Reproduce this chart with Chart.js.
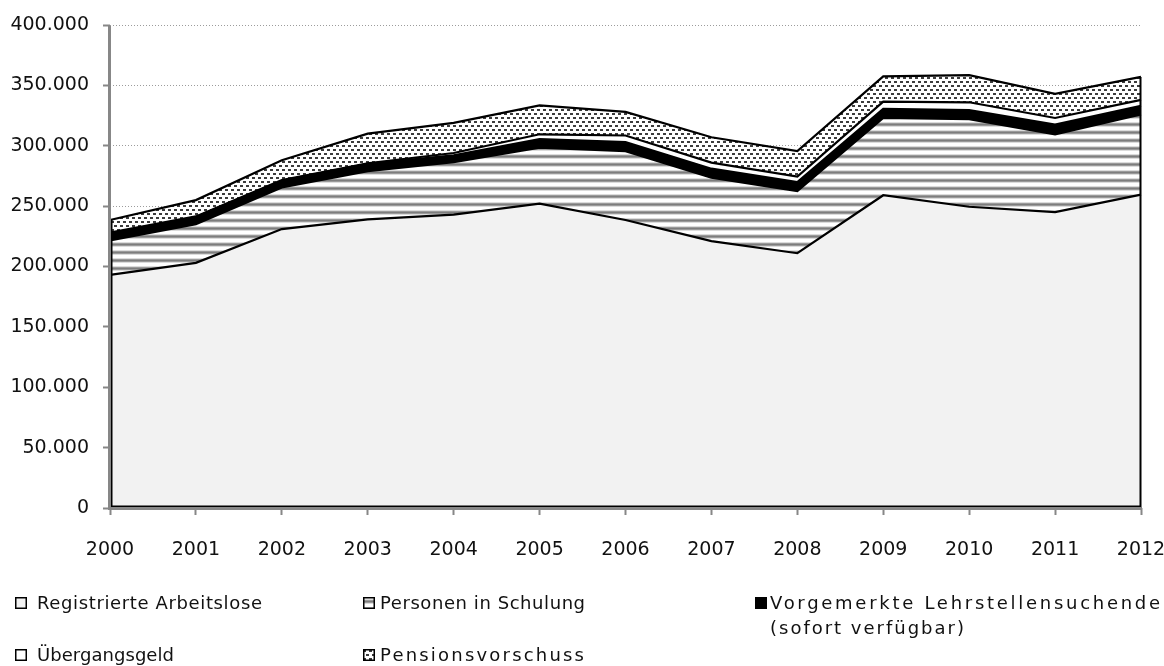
<!DOCTYPE html>
<html>
<head>
<meta charset="utf-8">
<script src="https://cdn.jsdelivr.net/npm/chart.js@4.4.1/dist/chart.umd.min.js"></script>
<style>
html,body{margin:0;padding:0;background:#fff;}
#wrap{position:relative;width:1164px;height:666px;overflow:hidden;}
#c{position:absolute;left:0;top:0;}
.lg{position:absolute;font-family:"DejaVu Sans",sans-serif;font-size:18px;color:#111;line-height:25px;white-space:nowrap;}
.mk{position:absolute;width:12px;height:12px;}
</style>
</head>
<body>
<div id="wrap">
<canvas id="c" width="1164" height="666"></canvas>
<div id="legend"></div>
</div>
<script>
// ---- data ----
const years = ['2000','2001','2002','2003','2004','2005','2006','2007','2008','2009','2010','2011','2012'];
const registrierteArbeitslose = [193000, 203000, 231000, 239000, 243000, 252000, 238500, 221000, 211000, 259000, 249500, 245000, 259500];
const personenInSchulung      = [28500, 32000, 34500, 40000, 43500, 46500, 57000, 52500, 51500, 64000, 72500, 64500, 66500];
const lehrstellensuchende     = [6000, 6000, 5500, 6000, 5500, 7000, 7500, 7500, 7500, 7500, 7500, 8000, 7000];
const uebergangsgeld          = [500, 500, 500, 500, 2000, 4000, 5500, 5000, 4500, 6000, 6500, 5500, 5000];
const pensionsvorschuss       = [10500, 13500, 16500, 24500, 25000, 24000, 19500, 21000, 21000, 21000, 22500, 20000, 19000];
const seriesNames = ['Registrierte Arbeitslose', 'Personen in Schulung', 'Vorgemerkte Lehrstellensuchende (sofort verfügbar)', 'Übergangsgeld', 'Pensionsvorschuss'];
const yTickStep = 50000, yMax = 400000;

// ---- patterns ----
function makeStripes() {
  const p = document.createElement('canvas'); p.width = 8; p.height = 8;
  const g = p.getContext('2d');
  const rows = ['#ffffff','#ffffff','#dcdcdc','#9a9a9a','#7d7d7d','#9a9a9a','#dcdcdc','#ffffff'];
  rows.forEach((c,i)=>{ g.fillStyle=c; g.fillRect(0,i,8,1); });
  return p;
}
function makeDots() {
  const p = document.createElement('canvas'); p.width = 6; p.height = 8;
  const g = p.getContext('2d');
  g.fillStyle = '#ffffff'; g.fillRect(0,0,6,8);
  g.fillStyle = '#3c3c3c';
  g.fillRect(0,1,3,2); g.fillRect(3,5,3,2);
  return p;
}
const mainCtx = document.getElementById('c').getContext('2d');
const stripePat = mainCtx.createPattern(makeStripes(), 'repeat');
const dotPat = mainCtx.createPattern(makeDots(), 'repeat');

const fills = ['#f2f2f2', stripePat, '#000000', '#ffffff', dotPat];
const dataArrays = [registrierteArbeitslose, personenInSchulung, lehrstellensuchende, uebergangsgeld, pensionsvorschuss];

const fmt = v => String(v).replace(/\B(?=(\d{3})+(?!\d))/g, '.');

const edgePlugin = {
  id: 'edges',
  afterDatasetsDraw(chart) {
    const {ctx, chartArea, scales: {x, y}} = chart;
    const n = years.length;
    ctx.save();
    ctx.strokeStyle = '#000'; ctx.lineWidth = 2;
    [0, n - 1].forEach(i => {
      let tot = 0; chart.data.datasets.forEach(d => tot += d.data[i]);
      const px = x.getPixelForValue(i) + (i === 0 ? 1.5 : -0.5);
      ctx.beginPath(); ctx.moveTo(px, y.getPixelForValue(0)); ctx.lineTo(px, y.getPixelForValue(tot)); ctx.stroke();
    });
    ctx.beginPath(); ctx.moveTo(x.getPixelForValue(0), chartArea.bottom - 1.5); ctx.lineTo(x.getPixelForValue(n - 1), chartArea.bottom - 1.5); ctx.stroke();
    ctx.strokeStyle = '#878787'; ctx.lineWidth = 3;
    ctx.beginPath(); ctx.moveTo(chartArea.left - 0.5, chartArea.top + 1); ctx.lineTo(chartArea.left - 0.5, chartArea.bottom + 2); ctx.stroke();
    ctx.beginPath(); ctx.moveTo(chartArea.left - 2, chartArea.bottom + 0.5); ctx.lineTo(chartArea.right, chartArea.bottom + 0.5); ctx.stroke();
    ctx.restore();
  }
};

new Chart(mainCtx, {
  type: 'line',
  data: {
    labels: years,
    datasets: dataArrays.map((arr, i) => ({
      label: seriesNames[i],
      data: arr,
      backgroundColor: fills[i],
      borderColor: '#000',
      borderWidth: 2.2,
      pointRadius: 0,
      tension: 0,
      fill: i === 0 ? 'origin' : '-1'
    }))
  },
  options: {
    responsive: false,
    animation: false,
    layout: { padding: { left: 0, right: 23, top: 25, bottom: 0 } },
    plugins: { legend: { display: false }, tooltip: { enabled: false } },
    scales: {
      x: {
        offset: false,
        grid: { display: true, drawOnChartArea: false, drawTicks: true, tickLength: 7, tickColor: '#878787', tickWidth: 2 },
        border: { display: false },
        ticks: { color: '#111', font: { family: 'DejaVu Sans', size: 19 }, padding: 24, maxRotation: 0, autoSkip: false },
        afterFit(s) { s.height = 158; s.paddingLeft = 0; s.paddingRight = 0; }
      },
      y: {
        stacked: true,
        min: 0, max: yMax,
        grid: { color: '#9c9c9c', lineWidth: 1, drawTicks: true, tickLength: 7, tickColor: '#878787', tickWidth: 2, tickBorderDash: [] },
        border: { display: false, dash: [1, 2] },
        ticks: { stepSize: yTickStep, color: '#111', font: { family: 'DejaVu Sans', size: 19 }, padding: 14, callback: v => fmt(v) },
        afterFit(s) { s.width = 110; s.paddingTop = 0; s.paddingBottom = 0; }
      }
    }
  },
  plugins: [edgePlugin]
});

// ---- legend (HTML text) ----
const legendItems = [
  { i: 0, mx: 15, tx: 37, top: 590, lines: ['Registrierte Arbeitslose'], w: [225] },
  { i: 1, mx: 363, tx: 380, top: 590, lines: ['Personen in Schulung'], w: [205] },
  { i: 2, mx: 755, tx: 770, top: 590, lines: ['Vorgemerkte Lehrstellensuchende', '(sofort verfügbar)'], w: [390, 194] },
  { i: 3, mx: 15, tx: 37, top: 642, lines: ['Übergangsgeld'], w: [137] },
  { i: 4, mx: 363, tx: 380, top: 642, lines: ['Pensionsvorschuss'], w: [204] }
];
const measure = document.createElement('canvas').getContext('2d');
measure.font = '18px "DejaVu Sans"';
const lg = document.getElementById('legend');
legendItems.forEach(it => {
  const m = document.createElement('canvas');
  m.width = 12; m.height = 12; m.className = 'mk';
  m.style.left = it.mx + 'px'; m.style.top = (it.top + 7) + 'px';
  const g = m.getContext('2d');
  if (it.i === 2) { g.fillStyle = '#000'; g.fillRect(0, 0, 12, 12); }
  else {
    g.fillStyle = fills[it.i];
    g.fillRect(0, 0, 12, 12);
    g.strokeStyle = '#000'; g.lineWidth = 1.5; g.strokeRect(0.75, 0.75, 10.5, 10.5);
  }
  lg.appendChild(m);
  it.lines.forEach((txt, k) => {
    const t = document.createElement('div');
    t.className = 'lg'; t.style.left = it.tx + 'px'; t.style.top = (it.top + k * 25) + 'px';
    const w = measure.measureText(txt).width;
    const ls = (it.w[k] - w) / Math.max(1, txt.length - 1);
    t.style.letterSpacing = ls.toFixed(2) + 'px';
    t.textContent = txt;
    lg.appendChild(t);
  });
});
</script>
</body>
</html>
